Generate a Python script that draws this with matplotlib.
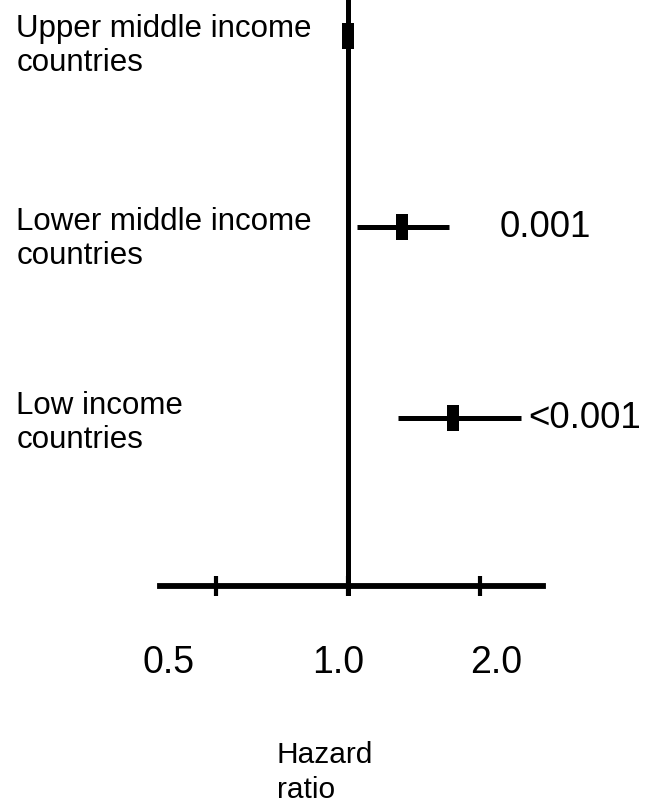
import numpy as np
import matplotlib
matplotlib.use("Agg")
import matplotlib.pyplot as plt
from matplotlib.path import Path
from matplotlib.transforms import ScaledTranslation, blended_transform_factory

plt.rcParams['font.family'] = ['Liberation Sans', 'DejaVu Sans']

groups = ["Upper middle income\ncountries",
          "Lower middle income\ncountries",
          "Low income\ncountries"]
hazard_ratio = [1.0, 1.33, 1.74]
ci_low = [np.nan, 1.05, 1.30]
ci_high = [np.nan, 1.70, 2.48]
p_values = ["", "0.001", "<0.001"]
tick_values = [0.5, 1.0, 2.0]
tick_labels = ["0.5", "1.0", "2.0"]

fig = plt.figure(figsize=(6.5, 8.03), dpi=100)
ax = fig.add_axes([0, 0, 1, 1])
ax.set_xscale("log")
ax.set_xlim(2 ** (-348 / 132), 2 ** (302 / 132))
ax.set_ylim(766 / 191, -37 / 191)

# thin upright box used as the point marker
box = Path([(-0.5, -1), (0.5, -1), (0.5, 1), (-0.5, 1), (-0.5, -1)],
           [Path.MOVETO, Path.LINETO, Path.LINETO, Path.LINETO, Path.CLOSEPOLY])

rows = np.arange(len(groups))
for y, hr, lo, hi in zip(rows, hazard_ratio, ci_low, ci_high):
    if not np.isnan(lo):
        ax.hlines(y, lo, hi, color="black", lw=3.6, zorder=2)
    ax.plot(hr, y, marker=box, markersize=18.7, color="black",
            markeredgewidth=0, linestyle="none", zorder=3)

# group names on the left
trans = blended_transform_factory(ax.transAxes, ax.transData)
label_dy = [-9, -11, -4]
for y, name, dy in zip(rows, groups, label_dy):
    off = ScaledTranslation(0, dy / 100, fig.dpi_scale_trans)
    ax.text(0.025, y, name, transform=trans + off, ha="left", va="center",
            fontsize=22.5, linespacing=1.15)

# p-values to the right of the intervals
p_x = [None, 2.22, 2.57]
for y, p, x in zip(rows, p_values, p_x):
    if p:
        ax.text(x, y, p, ha="left", va="center", fontsize=26.5)

# reference line at HR = 1 and the x axis
for side in ["top", "right"]:
    ax.spines[side].set_visible(False)
ax.spines["left"].set_position(("data", 1.0))
ax.spines["left"].set_bounds(-37 / 191, 557 / 191)
ax.spines["left"].set_linewidth(3.6)
ax.spines["bottom"].set_position(("data", 550 / 191))
ax.spines["bottom"].set_bounds(0.372, 2.78)
ax.spines["bottom"].set_linewidth(4.2)

ax.set_yticks([])
ax.set_xticks(tick_values)
ax.set_xticklabels(tick_labels)
ax.xaxis.set_minor_locator(matplotlib.ticker.NullLocator())
ax.tick_params(axis="x", direction="inout", length=14, width=3,
               labelsize=27, pad=35)
label_dx = [-47, -10, 16]
for lab, dx in zip(ax.get_xticklabels(), label_dx):
    lab.set_transform(lab.get_transform() +
                      ScaledTranslation(dx / 100, 0, fig.dpi_scale_trans))

ax.set_xlabel("Hazard\nratio", fontsize=21.5, labelpad=43,
              multialignment="left", linespacing=1.3)

fig.savefig("out.png", dpi=100)
